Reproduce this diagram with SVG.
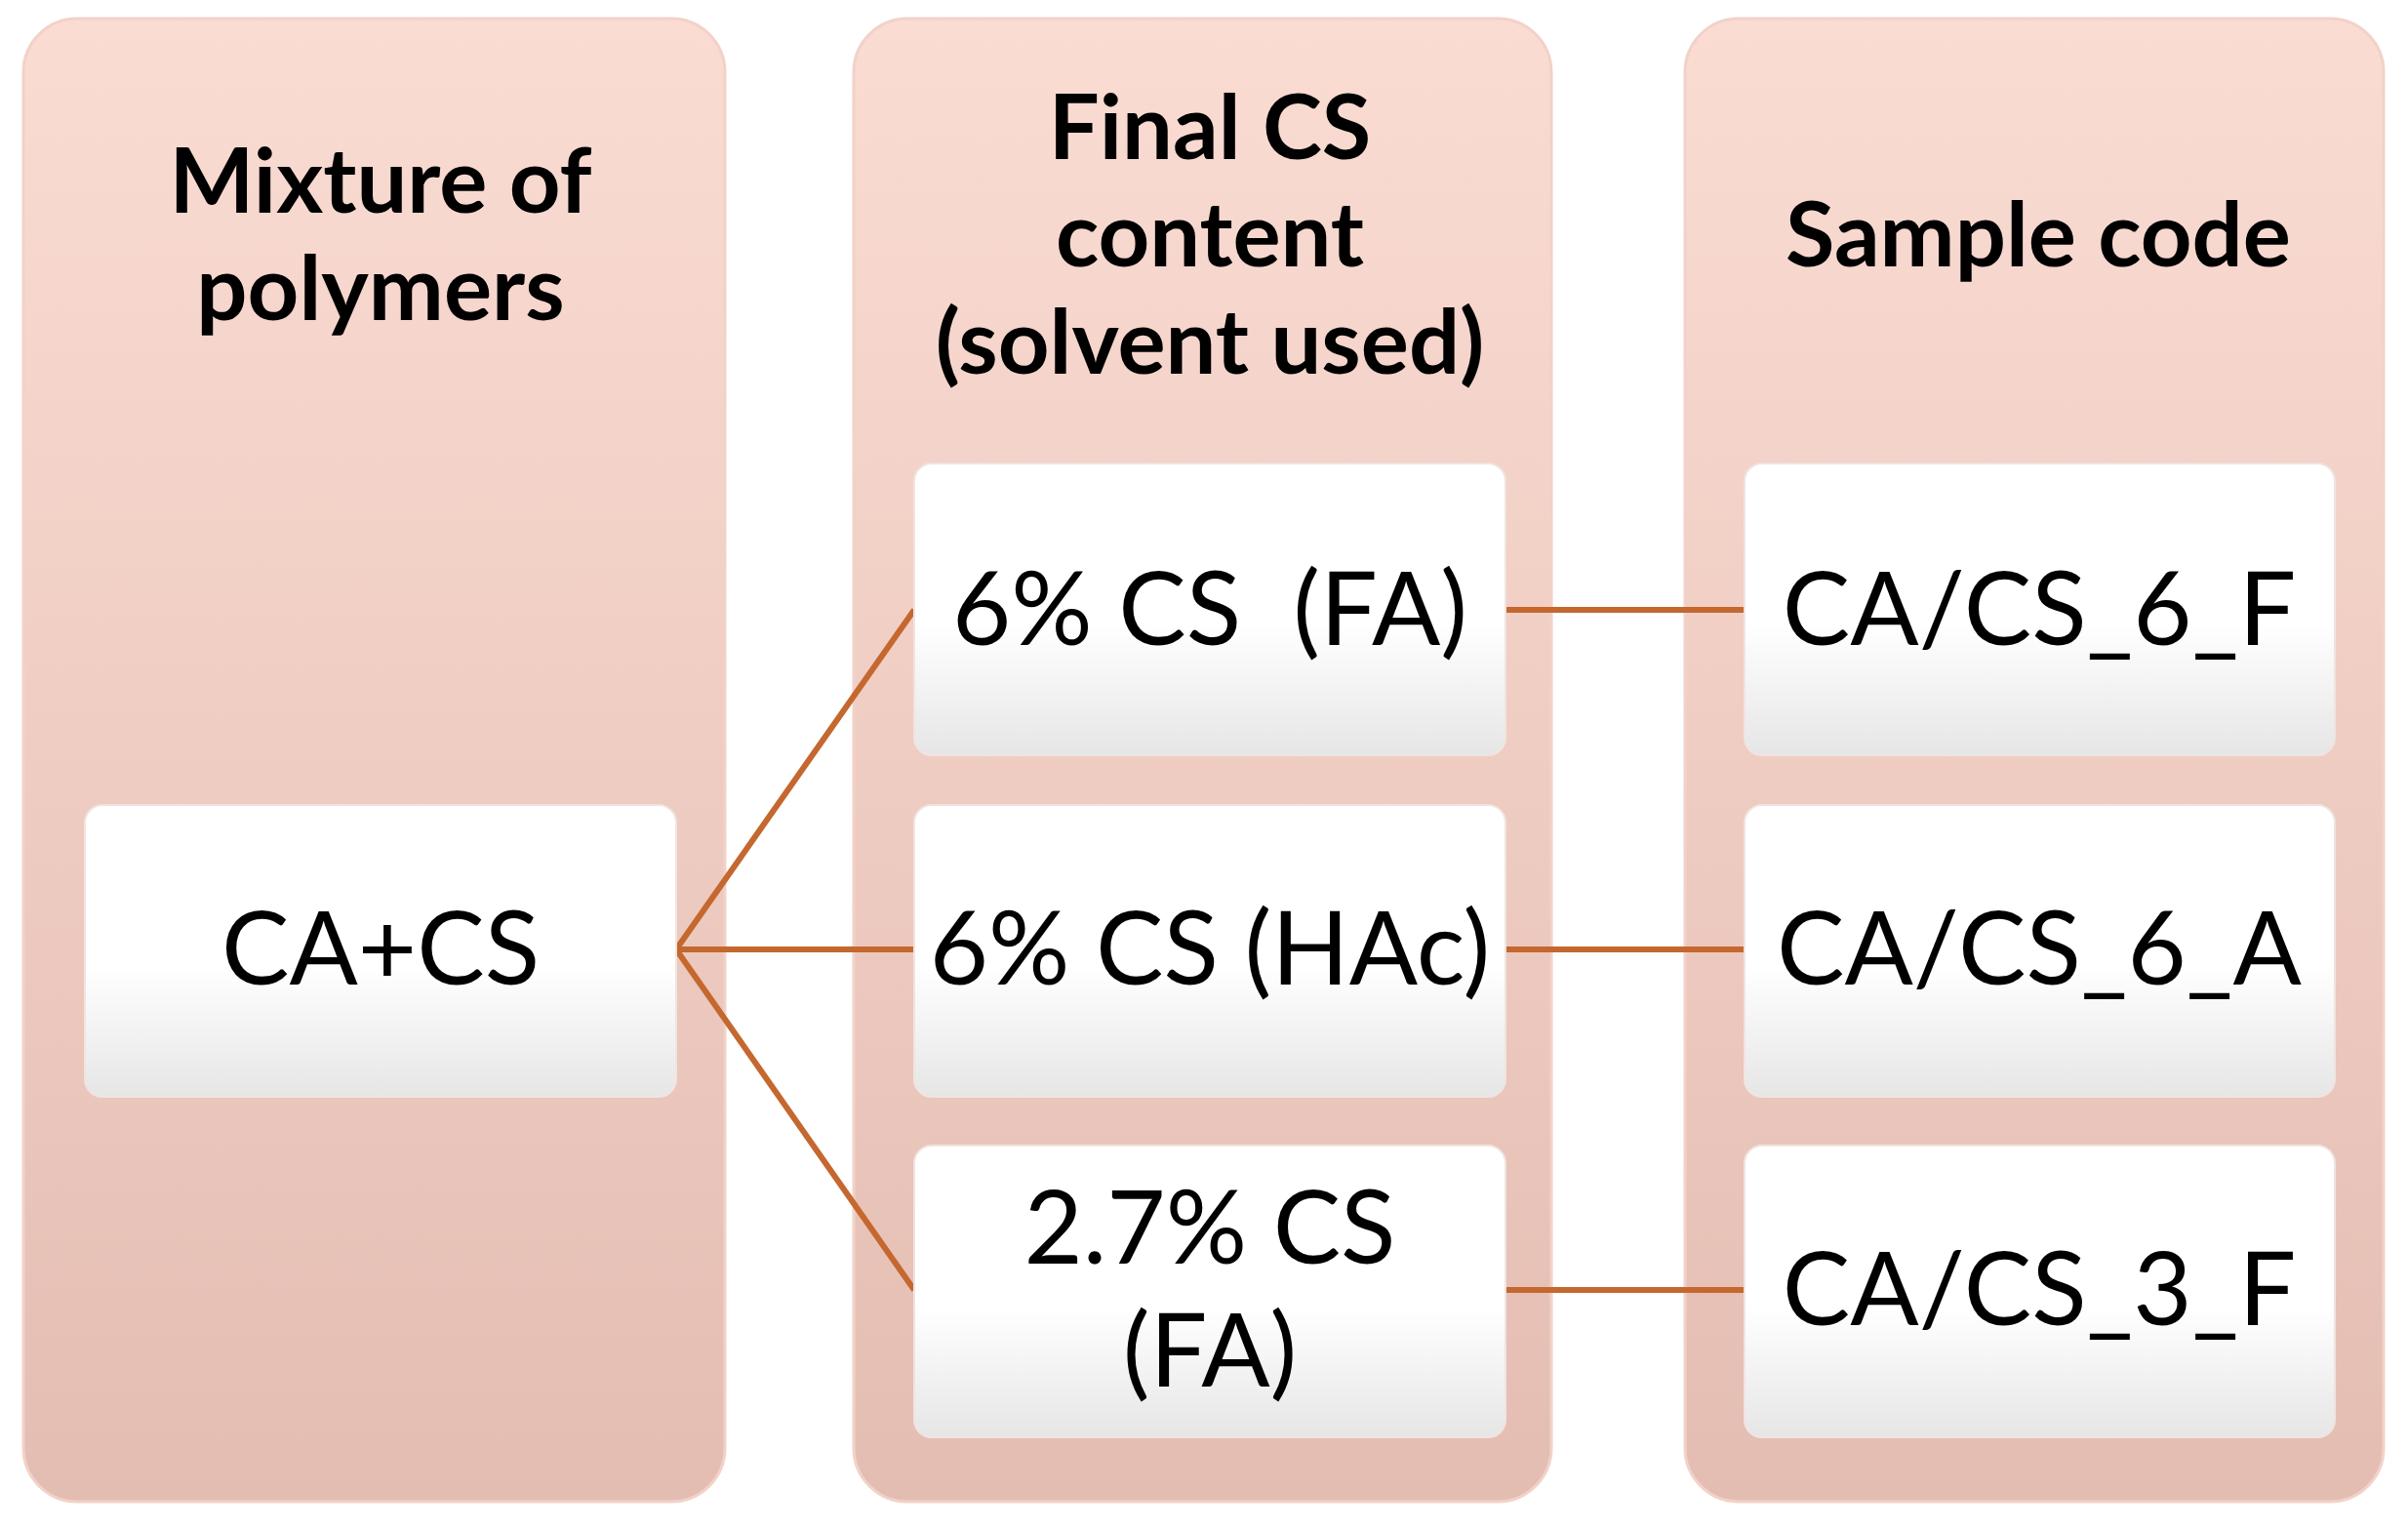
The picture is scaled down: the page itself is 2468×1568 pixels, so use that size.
<svg xmlns="http://www.w3.org/2000/svg" width="2468" height="1568" viewBox="0 0 2468 1568">
<defs>
<linearGradient id="col" x1="0" y1="0" x2="0" y2="1"><stop offset="0" stop-color="#fadcd3"/><stop offset="1" stop-color="#e4bdb2"/></linearGradient>
<linearGradient id="box" x1="0" y1="0" x2="0" y2="1"><stop offset="0" stop-color="#ffffff"/><stop offset="0.55" stop-color="#ffffff"/><stop offset="1" stop-color="#e6e6e6"/></linearGradient>
<style>
.col{fill:url(#col);stroke:#f2d2c8;stroke-width:3}
.box{fill:url(#box);stroke:#f0e4e0;stroke-width:2}
.h{font-family:Lato,"Liberation Sans",sans-serif;font-weight:bold;font-size:92px;fill:#000;text-anchor:middle}
.t{font-family:Lato,"Open Sans","Liberation Sans",sans-serif;font-size:104px;fill:#000;text-anchor:middle}
.c{stroke:#c4682f;stroke-width:6;fill:none}
</style>
</defs>
<g id="col1"><rect class="col" x="24" y="19" width="719" height="1520" rx="55"/>
<text class="h" x="390" y="218">Mixture of</text><text class="h" x="390" y="328">polymers</text></g>
<g id="col2"><rect class="col" x="875" y="19" width="715" height="1520" rx="55"/>
<text class="h" x="1240" y="163">Final CS</text><text class="h" x="1240" y="273">content</text><text class="h" x="1240" y="383">(solvent used)</text></g>
<g id="col3"><rect class="col" x="1727" y="19" width="716" height="1520" rx="55"/>
<text class="h" x="2089" y="273">Sample code</text></g>
<g id="connectors">
<path class="c" d="M693 973 L937 625 M693 973 L937 973 M693 973 L937 1322 M1543 625 L1788 625 M1543 973 L1788 973 M1543 1322 L1788 1322"/>
</g>
<g id="n0"><rect class="box" x="87" y="825" width="606" height="299" rx="18"/><text class="t" x="390" y="1009">CA+CS</text></g>
<g id="n1"><rect class="box" x="937" y="475" width="606" height="299" rx="18"/><text class="t" x="1240" y="661" xml:space="preserve">6% CS  (FA)</text></g>
<g id="n2"><rect class="box" x="937" y="825" width="606" height="299" rx="18"/><text class="t" x="1240" y="1009">6% CS (HAc)</text></g>
<g id="n3"><rect class="box" x="937" y="1174" width="606" height="299" rx="18"/><text class="t" x="1240" y="1295">2.7% CS</text><text class="t" x="1240" y="1421">(FA)</text></g>
<g id="n4"><rect class="box" x="1788" y="475" width="605" height="299" rx="18"/><text class="t" x="2090" y="661">CA/CS_6_F</text></g>
<g id="n5"><rect class="box" x="1788" y="825" width="605" height="299" rx="18"/><text class="t" x="2090" y="1009">CA/CS_6_A</text></g>
<g id="n6"><rect class="box" x="1788" y="1174" width="605" height="299" rx="18"/><text class="t" x="2090" y="1358">CA/CS_3_F</text></g>
</svg>
